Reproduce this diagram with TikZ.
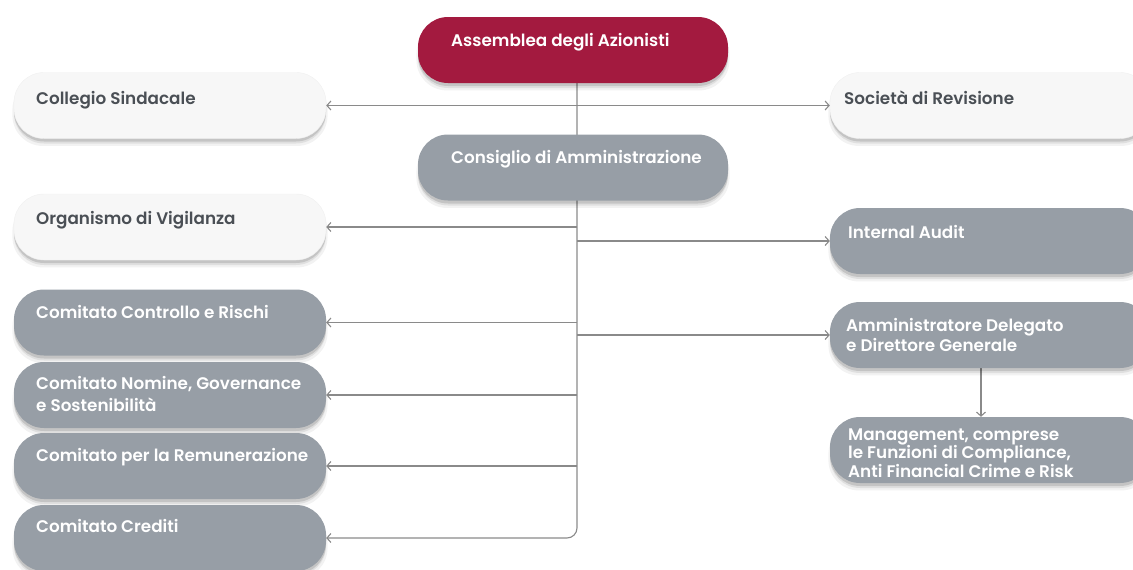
\documentclass[tikz,border=0pt]{standalone}
\usepackage{fontspec}
\setmainfont{Poppins}[UprightFont=* SemiBold, BoldFont=* Bold]
\usetikzlibrary{shadows,arrows.meta,backgrounds}
\definecolor{crimson}{HTML}{A31A3F}
\definecolor{boxgrey}{HTML}{979EA6}
\definecolor{boxwhite}{HTML}{F7F7F7}
\definecolor{txtdark}{HTML}{4A4F55}
\definecolor{linegrey}{HTML}{8A8A8A}
\tikzset{
  pill/.style={rectangle, rounded corners=30pt, minimum height=66pt, inner sep=0pt,
    drop shadow={shadow xshift=0pt, shadow yshift=-7pt, opacity=0.05, fill=black, shadow scale=1.01},
    drop shadow={shadow xshift=0pt, shadow yshift=-5pt, opacity=0.08, fill=black},
    drop shadow={shadow xshift=0pt, shadow yshift=-3pt, opacity=0.12, fill=black}},
  redbox/.style={pill, fill=crimson, minimum width=310pt},
  greybox/.style={pill, fill=boxgrey},
  whitebox/.style={pill, fill=boxwhite, draw=black!6},
  lt/.style={greybox, minimum width=312pt},
  lw/.style={whitebox, minimum width=312pt},
  rt/.style={greybox, minimum width=320pt},
  rw/.style={whitebox, minimum width=320pt},
  ctr/.style={greybox, minimum width=310pt},
  lab/.style={anchor=base west, inner sep=0pt, font=\fontsize{16.8}{21}\selectfont},
  labw/.style={lab, text=white},
  labd/.style={lab, text=txtdark},
  arr/.style={draw=linegrey, line width=1.1pt, -{Straight Barb[length=4pt,width=9pt]}},
  arrb/.style={draw=linegrey, line width=1.1pt, {Straight Barb[length=4pt,width=9pt]}-{Straight Barb[length=4pt,width=9pt]}}
}
\begin{document}
\begin{tikzpicture}[x=1pt,y=-1pt]
\useasboundingbox (0,0) rectangle (1133,570);
% boxes
\node[redbox] (asm) at (573,50) {};
\node[lw] (cs) at (170,105.5) {};
\node[rw] (sr) at (990,105.5) {};
\node[ctr] (cda) at (573,167.5) {};
\node[lw] (ov) at (170,227) {};
\node[rt] (ia) at (990,241) {};
\node[lt] (ccr) at (170,322.5) {};
\node[lt] (cng) at (170,395) {};
\node[lt] (crm) at (170,466) {};
\node[lt] (ccd) at (170,538) {};
\node[rt] (ad) at (990,335) {};
\node[rt] (mg) at (990,450) {};
% texts
\node[labw] (tasm) at (451,46) {Assemblea degli Azionisti};
\node[labd] (tcs) at (36,104) {Collegio Sindacale};
\node[labd] (tsr) at (844,104) {Società di Revisione};
\node[labw] (tcda) at (451,163) {Consiglio di Amministrazione};
\node[labd] (tov) at (36,224) {Organismo di Vigilanza};
\node[labw] (tia) at (848,238) {Internal Audit};
\node[labw] (tccr) at (36,318) {Comitato Controllo e Rischi};
\node[labw] (tcng) at (36,389) {\vtop{\baselineskip=22pt\hbox{Comitato Nomine, Governance}\hbox{e Sostenibilità}}};
\node[labw] (tcrm) at (36,461) {Comitato per la Remunerazione};
\node[labw] (tccd) at (36,532) {Comitato Crediti};
\node[labw] (tad) at (846,331) {\vtop{\baselineskip=20pt\hbox{Amministratore Delegato}\hbox{e Direttore Generale}}};
\node[labw] (tmg) at (848,440) {\vtop{\baselineskip=17pt\hbox{Management, comprese}\hbox{le Funzioni di Compliance,}\hbox{Anti Financial Crime e Risk}}};
% connectors
\coordinate (tr) at (577,0);
\coordinate (am) at (981,0);
\begin{scope}[on background layer]
\draw[arr, rounded corners=10pt] (tr |- asm.south) -- (tr |- ccd.east) -- (ccd.east);
\draw[arrb] (cs.east) -- (sr.west);
\draw[arr] (tr |- ov.east) -- (ov.east);
\draw[arr] (tr |- ia.west) -- (ia.west);
\draw[arr] (tr |- ccr.east) -- (ccr.east);
\draw[arr] (tr |- cng.east) -- (cng.east);
\draw[arr] (tr |- crm.east) -- (crm.east);
\draw[arr] (tr |- ad.west) -- (ad.west);
\draw[arr] (am |- ad.south) -- (am |- mg.north);
\end{scope}
\end{tikzpicture}
\end{document}
